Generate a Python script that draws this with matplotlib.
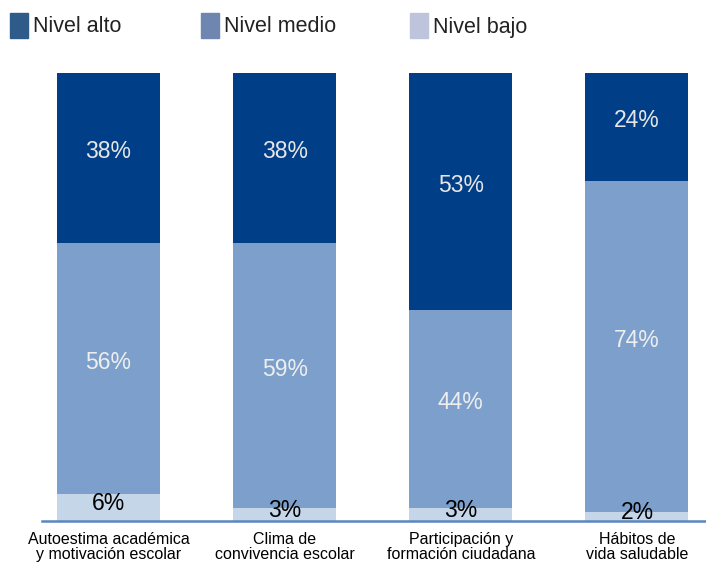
import matplotlib.pyplot as plt
from matplotlib.patches import Rectangle

plt.rcParams['font.family'] = ['Liberation Sans', 'DejaVu Sans']

categories = ['Autoestima académica\ny motivación escolar', 'Clima de\nconvivencia escolar',
              'Participación y\nformación ciudadana', 'Hábitos de\nvida saludable']
bajo = [6, 3, 3, 2]
medio = [56, 59, 44, 74]
alto = [38, 38, 53, 24]

series_names = ['Nivel alto', 'Nivel medio', 'Nivel bajo']
bar_colors = ['#003f87', '#7ca0cb', '#c6d6e9']
legend_colors = ['#2e5b8a', '#6f86b0', '#bdc4db']

fig = plt.figure(figsize=(7.06, 5.62), dpi=100)
ax = fig.add_axes([0.0595, 0.073, 0.9405, 0.797])

x = range(len(categories))
w = 0.585
ax.bar(x, bajo, w, color=bar_colors[2])
ax.bar(x, medio, w, bottom=bajo, color=bar_colors[1])
bottom2 = [b + m for b, m in zip(bajo, medio)]
ax.bar(x, alto, w, bottom=bottom2, color=bar_colors[0])

for i in x:
    ax.annotate(f'{bajo[i]}%', (i, bajo[i] / 2), xytext=(0, 2.8), textcoords='offset points',
                ha='center', va='center', fontsize=16.5, color='black')
    ax.annotate(f'{medio[i]}%', (i, bajo[i] + medio[i] / 2), xytext=(0, 4.5),
                textcoords='offset points', ha='center', va='center',
                fontsize=16.5, color='#eeeeee')
    ax.annotate(f'{alto[i]}%', (i, bottom2[i] + alto[i] / 2), xytext=(0, 4.5),
                textcoords='offset points', ha='center', va='center',
                fontsize=16.5, color='#e6e6e6')

ax.set_xlim(-0.378, 3.392)
ax.set_ylim(0, 100)
for s in ['top', 'right', 'left']:
    ax.spines[s].set_visible(False)
ax.spines['bottom'].set_color('#5b87bf')
ax.spines['bottom'].set_linewidth(1.8)
ax.set_yticks([])
ax.set_xticks(list(x))
ax.set_xticklabels(categories, fontsize=11.5, linespacing=1.0)
ax.tick_params(axis='x', length=0, pad=8)

# legend across the top
leg_x = [10, 201, 410]
for name, col, lx in zip(series_names, legend_colors, leg_x):
    fig.patches.append(Rectangle((lx / 706, 1 - 38 / 562), 18 / 706, 25 / 562,
                                 transform=fig.transFigure, color=col))
    fig.text((lx + 23) / 706, 1 - 27 / 562, name, fontsize=15.5, va='center',
             color='#222222')

fig.savefig('out.png', dpi=100)
